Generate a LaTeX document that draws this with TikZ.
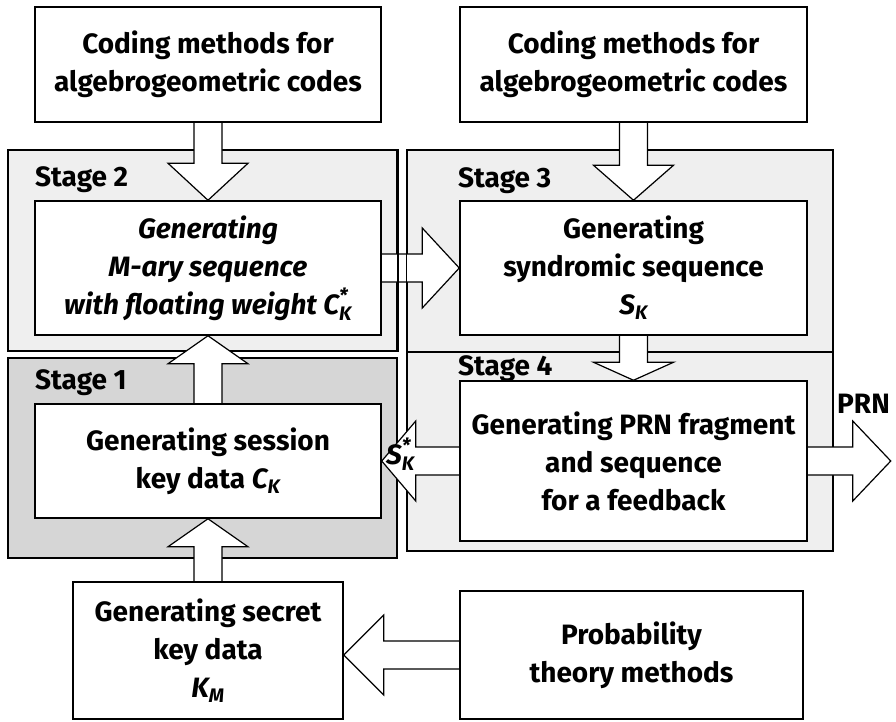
\documentclass[tikz,border=0pt]{standalone}
\usepackage{amsmath}
\usepackage{fontspec}
\setmainfont{Fira Sans}
\usetikzlibrary{calc}
\definecolor{panelgray}{HTML}{EFEFEF}
\definecolor{stagegray}{HTML}{D6D6D6}
\pgfdeclarelayer{back}
\pgfdeclarelayer{mid}
\pgfsetlayers{back,mid,main}

% italic symbol with subscript (and superscript)
\newcommand{\symsub}[2]{$\textit{#1}_{\textit{#2}}$}
\newcommand{\symsubsup}[3]{$\textit{#1}^{\textit{#3}}_{\textit{#2}}$}

% hollow block arrow: from, to, head length
\newcommand{\blockarrow}[3]{%
	\coordinate (hb) at ($(#2)!#3pt!(#1)$);
	\filldraw[fat]
	($(#1)!14pt!90:(#2)$) -- ($(hb)!14pt!90:(#2)$) -- ($(hb)!40pt!90:(#2)$) -- (#2)
	-- ($(hb)!40pt!-90:(#2)$) -- ($(hb)!14pt!-90:(#2)$) -- ($(#1)!14pt!-90:(#2)$);
}

\begin{document}
\begin{tikzpicture}[
	x=1pt, y=-1pt,
	font=\bfseries\fontsize{28}{38}\selectfont,
	panel/.style={draw=black, line width=1.5pt, fill=panelgray, inner sep=0pt},
	box/.style={draw=black, line width=1.5pt, fill=white, align=center, inner sep=0pt},
	fat/.style={draw=black, line width=1.2pt, fill=white, line join=miter},
	lbl/.style={inner sep=0pt}
	]

	\useasboundingbox (0,0) rectangle (896,721);

	% ================= Stage panels =================
	\begin{pgfonlayer}{back}
		\node[panel, minimum width=389, minimum height=201] (st2) at (202.5,250.5) {};
		\node[panel, fill=stagegray, minimum width=389, minimum height=200] (st1) at (202.5,458) {};
		\node[panel, minimum width=426, minimum height=202] (st3) at (620,251) {};
		\node[panel, minimum width=426, minimum height=199] (st4) at (620,451.5) {};
	\end{pgfonlayer}

	\node[lbl, anchor=base west] (lab2) at (35,186) {Stage 2};
	\node[lbl, anchor=base west] (lab3) at (458,187) {Stage 3};
	\node[lbl, anchor=base west] (lab1) at (35,389) {Stage 1};
	\node[lbl, anchor=base west] (lab4) at (458,375) {Stage 4};

	% ================= Boxes =================
	\node[box, minimum width=346, minimum height=115] (codeL) at (208,64.5)
	{Coding methods for\\algebrogeometric codes};
	\node[box, minimum width=347, minimum height=115] (codeR) at (633.5,64.5)
	{Coding methods for\\algebrogeometric codes};

	\node[box, minimum width=346, minimum height=134] (gen2) at (208,268)
	{\itshape Generating\\\itshape M-ary sequence\\\itshape with floating weight \symsubsup{C}{K}{*}};
	\node[box, minimum width=347, minimum height=134] (gen3) at (633.5,268)
	{Generating\\syndromic sequence\\\symsub{S}{K}};
	\node[box, minimum width=346, minimum height=114] (gen1) at (208,461)
	{Generating session\\key data \symsub{C}{K}};
	\node[box, minimum width=347, minimum height=160] (gen4) at (633.5,461)
	{Generating PRN fragment\\and sequence\\for a feedback};

	\node[box, minimum width=270, minimum height=137] (secret) at (208,650.5)
	{Generating secret\\key data\\\symsub{K}{M}};
	\node[box, minimum width=343, minimum height=128] (prob) at (631.5,655)
	{Probability\\theory methods};

	\coordinate (kin) at (secret.east |- prob.west);
	\coordinate (prnout) at ($(gen4.east)+(83,0)$);

	% ================= Block arrows =================
	\begin{pgfonlayer}{mid}
		\blockarrow{codeL.south}{gen2.north}{37}
		\blockarrow{codeR.south}{gen3.north}{35}
		\blockarrow{gen2.east}{gen3.west}{37}
		\blockarrow{gen3.south}{gen4.north}{18}
		\blockarrow{gen1.north}{gen2.south}{28}
		\blockarrow{secret.north}{gen1.south}{28}
		\blockarrow{prob.west}{kin}{40}
		\blockarrow{gen4.west}{gen1.east}{34}
		\blockarrow{gen4.east}{prnout}{38}
	\end{pgfonlayer}

	% panel borders seen through the Stage 2 -> Stage 3 arrow
	\draw[line width=1.5pt] (st2.north east) -- (st2.south east);
	\draw[line width=1.5pt] (st3.north west) -- (st3.south west);

	\node[lbl, anchor=base west] (skstar) at (386,464) {\symsubsup{S}{K}{*}};
	\node[lbl, anchor=base] (prn) at (863.5,413) {PRN};

\end{tikzpicture}
\end{document}
